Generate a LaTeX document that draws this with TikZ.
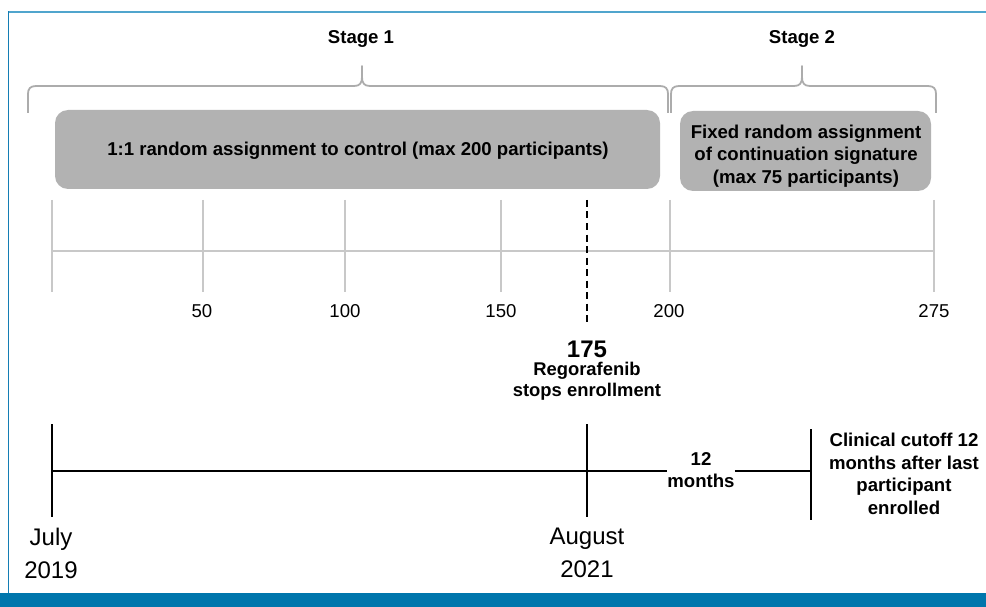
\documentclass[tikz,border=0pt]{standalone}
\usepackage{fontspec}
\setmainfont{Liberation Sans}
\usetikzlibrary{calc}
\definecolor{frameblue}{RGB}{80,165,205}
\definecolor{sideblue}{RGB}{20,125,180}
\definecolor{bandblue}{RGB}{0,118,172}
\definecolor{boxgray}{RGB}{178,178,178}
\definecolor{bracegray}{RGB}{172,172,172}
\definecolor{axisgray}{RGB}{200,200,200}
\tikzset{
  stagelbl/.style={font=\fontsize{18.6}{22}\selectfont\bfseries, inner sep=0pt},
  bracepath/.style={draw=bracegray, line width=1.8pt, line join=round},
  graybox/.style={fill=boxgray, rounded corners=13pt, draw=none},
  boxtext/.style={font=\fontsize{18.6}{22.5}\selectfont\bfseries, align=center, inner sep=0pt},
  axisline/.style={draw=axisgray, line width=1.8pt},
  ticklbl/.style={font=\fontsize{18.6}{22}\selectfont, inner sep=0pt},
  tl/.style={draw=black, line width=1.8pt},
  boldlbl/.style={font=\fontsize{18.6}{22.5}\selectfont\bfseries, align=center, inner sep=0pt},
  datelbl/.style={font=\fontsize{24}{33}\selectfont, align=center, inner sep=0pt}
}
\begin{document}
\begin{tikzpicture}[x=1pt,y=-1pt]
\useasboundingbox (0,0) rectangle (986,607);
% frame
\fill[bandblue] (0,593) rectangle (986,607);
\draw[frameblue, line width=1.6pt] (8.5,12) -- (986,12);
\draw[sideblue, line width=1.6pt] (8.5,593) -- (8.5,11.2);
% stage labels
\node[stagelbl] (s1) at (361,39) {Stage 1};
\node[stagelbl] (s2) at (802,39) {Stage 2};
% braces
\draw[bracepath] (28,113) -- (28,94) .. controls (28,89) and (30,86) .. (36,86) -- (354,86)
  .. controls (360,86) and (362,83) .. (362,77) -- (362,66) -- (362,77)
  .. controls (362,83) and (364,86) .. (370,86) -- (660,86)
  .. controls (666,86) and (668,89) .. (668,94) -- (668,113);
\draw[bracepath] (671,113) -- (671,94) .. controls (671,89) and (673,86) .. (679,86) -- (794,86)
  .. controls (800,86) and (802,83) .. (802,77) -- (802,66) -- (802,77)
  .. controls (802,83) and (804,86) .. (810,86) -- (928,86)
  .. controls (934,86) and (936,89) .. (936,94) -- (936,113);
% boxes
\draw[graybox] (55,110) rectangle (660,189);
\node[boxtext] (b1) at (358,151) {1:1 random assignment to control (max 200 participants)};
\draw[graybox] (680,111) rectangle (931,191);
\node[boxtext] (b2) at (806,156) {Fixed random assignment\\of continuation signature\\(max 75 participants)};
% axis
\coordinate (a0) at (52,251);
\coordinate (a50) at (203,251);
\coordinate (a100) at (345,251);
\coordinate (a150) at (501,251);
\coordinate (a200) at (670,251);
\coordinate (a275) at (934,251);
\draw[axisline] (a0) -- (a275);
\foreach \p in {a0,a50,a100,a150,a200,a275}
  \draw[axisline] ($(\p)+(0,-51)$) -- ($(\p)+(0,41)$);
\node[ticklbl] (l50) at (202,311) {50};
\node[ticklbl] (l100) at (345,311) {100};
\node[ticklbl] (l150) at (501,311) {150};
\node[ticklbl] (l200) at (669,311) {200};
\node[ticklbl] (l275) at (934,311) {275};
% dashed 175 marker
\coordinate (d1) at (587,200);
\node[font=\fontsize{24}{26}\selectfont\bfseries, inner sep=0pt] (n175) at (587,349) {175};
\draw[black, line width=2pt, dash pattern=on 7pt off 4.5pt] (d1) -- ($(n175.north)+(0,-17)$);
\node[font=\fontsize{18.4}{21}\selectfont\bfseries, align=center, inner sep=0pt, anchor=north] (reg) at (587,362) {Regorafenib\\stops enrollment};
% lower timeline
\coordinate (t1) at (52,471);
\coordinate (t2) at (587,471);
\coordinate (t3) at (811,471);
\node[boldlbl] (mo) at (701,470) {12\\months};
\draw[tl] (t1) -- ($(mo.west)+(0,1)$);
\draw[tl] ($(mo.east)+(0,1)$) -- (t3);
\draw[tl] ($(t1)+(0,-47)$) -- ($(t1)+(0,46)$);
\draw[tl] ($(t2)+(0,-47)$) -- ($(t2)+(0,46)$);
\draw[tl] ($(t3)+(0,-42)$) -- ($(t3)+(0,49)$);
\node[boldlbl] (cut) at (904,474) {Clinical cutoff 12\\months after last\\participant\\enrolled};
\node[datelbl] (jul) at (51,553) {July\\2019};
\node[datelbl] (aug) at (587,553) {August\\2021};
\end{tikzpicture}
\end{document}
